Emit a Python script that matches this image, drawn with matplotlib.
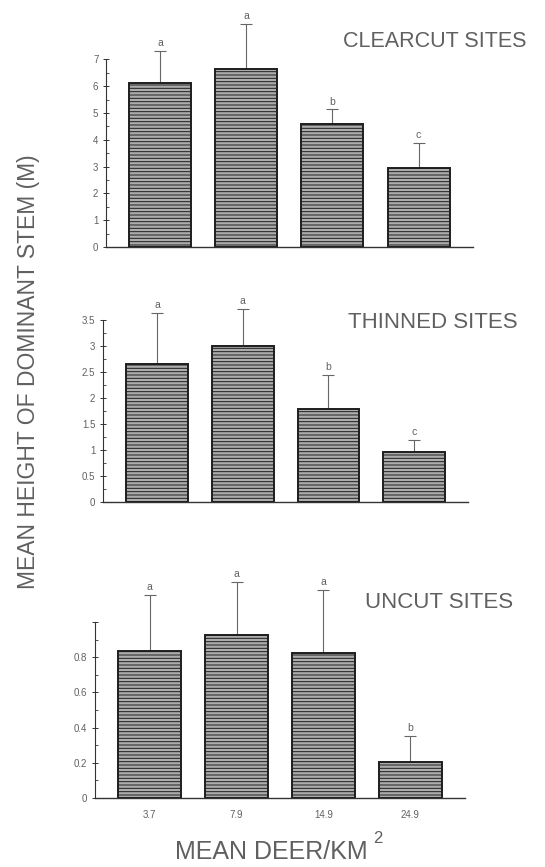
import numpy as np
import matplotlib.pyplot as plt
from matplotlib.ticker import MultipleLocator

plt.rcParams['font.family'] = ['Liberation Sans', 'DejaVu Sans']
plt.rcParams['hatch.color'] = '#3c3c3c'
plt.rcParams['hatch.linewidth'] = 0.7

# 데이터
deer = ['3.7', '7.9', '14.9', '24.9']

clear_mean = [6.13, 6.62, 4.57, 2.94]
clear_err = [1.18, 1.70, 0.56, 0.93]
clear_grp = ['a', 'a', 'b', 'c']

thin_mean = [2.65, 3.00, 1.78, 0.96]
thin_err = [0.98, 0.72, 0.67, 0.23]
thin_grp = ['a', 'a', 'b', 'c']

uncut_mean = [0.836, 0.927, 0.822, 0.205]
uncut_err = [0.32, 0.30, 0.36, 0.15]
uncut_grp = ['a', 'a', 'a', 'b']

txt = '#606060'
line = '#333333'

fig = plt.figure(figsize=(5.45, 8.67), dpi=100)

# 패널 위치 [left, bottom, width, height]
ax1 = fig.add_axes([0.1945, 0.7151, 0.673, 0.2165])
ax2 = fig.add_axes([0.189, 0.4210, 0.670, 0.2099])
ax3 = fig.add_axes([0.1743, 0.0796, 0.679, 0.2030])


def draw_panel(ax, mean, err, grp, top, minor):
    x = np.arange(len(mean))
    ax.bar(x, mean, width=0.72, color='#acacac', edgecolor='#1e1e1e',
           linewidth=1.4, hatch='-----', zorder=2)
    ax.errorbar(x, mean, yerr=[np.zeros(len(err)), err], fmt='none',
                ecolor='#666666', elinewidth=0.8, capsize=4.5, capthick=0.8,
                clip_on=False, zorder=1)
    for xi, m, e, g in zip(x, mean, err, grp):
        ax.annotate(g, (xi, m + e), xytext=(0, 2), textcoords='offset points',
                    ha='center', va='bottom', fontsize=7.5, color=txt,
                    annotation_clip=False)
    ax.set_xlim(-0.63, 3.63)
    ax.set_ylim(0, top)
    ax.spines['top'].set_visible(False)
    ax.spines['right'].set_visible(False)
    ax.spines['left'].set_color(line)
    ax.spines['bottom'].set_color(line)
    ax.spines['left'].set_linewidth(0.8)
    ax.spines['bottom'].set_linewidth(1.0)
    ax.yaxis.set_minor_locator(MultipleLocator(minor))
    ax.tick_params(axis='y', which='major', direction='inout', length=5,
                   width=0.7, color=line, labelsize=7, labelcolor=txt, pad=3)
    ax.tick_params(axis='y', which='minor', direction='in', length=2.5,
                   width=0.6, color=line)
    ax.set_xticks(x)
    ax.tick_params(axis='x', length=0, labelsize=7, labelcolor=txt, pad=9)


draw_panel(ax1, clear_mean, clear_err, clear_grp, 7, 0.5)
ax1.set_yticks(np.arange(0, 8, 1))
ax1.set_yticklabels([str(v) for v in range(8)])
ax1.set_xticklabels([])

draw_panel(ax2, thin_mean, thin_err, thin_grp, 3.5, 0.25)
ax2.set_yticks(np.arange(0, 3.51, 0.5))
ax2.set_yticklabels(['0', '0.5', '1', '1.5', '2', '2.5', '3', '3.5'])
ax2.set_xticklabels([])

draw_panel(ax3, uncut_mean, uncut_err, uncut_grp, 1.0, 0.1)
ax3.set_yticks(np.arange(0, 1.01, 0.2))
ax3.set_yticklabels(['0', '0.2', '0.4', '0.6', '0.8', ''])
ax3.set_xticklabels(deer)

# 패널 제목
fig.text(0.629, 0.9516, 'CLEARCUT SITES', fontsize=15.5, color=txt, va='center')
fig.text(0.639, 0.6286, 'THINNED SITES', fontsize=16, color=txt, va='center')
fig.text(0.670, 0.3045, 'UNCUT SITES', fontsize=16, color=txt, va='center')

# 축 제목
fig.text(0.053, 0.571, 'MEAN HEIGHT OF DOMINANT STEM (M)', rotation=90,
         fontsize=16.5, color=txt, ha='center', va='center')
xl = fig.text(0.321, 0.0173, 'MEAN DEER/KM', fontsize=18, color=txt, va='center')

# 위첨자 2는 글자 끝에 맞춰 붙이기
fig.canvas.draw()
bb = xl.get_window_extent().transformed(fig.transFigure.inverted())
fig.text(bb.x1 + 0.010, 0.0330, '2', fontsize=12, color=txt, va='center')

fig.savefig('out.png', dpi=100, facecolor='white')
